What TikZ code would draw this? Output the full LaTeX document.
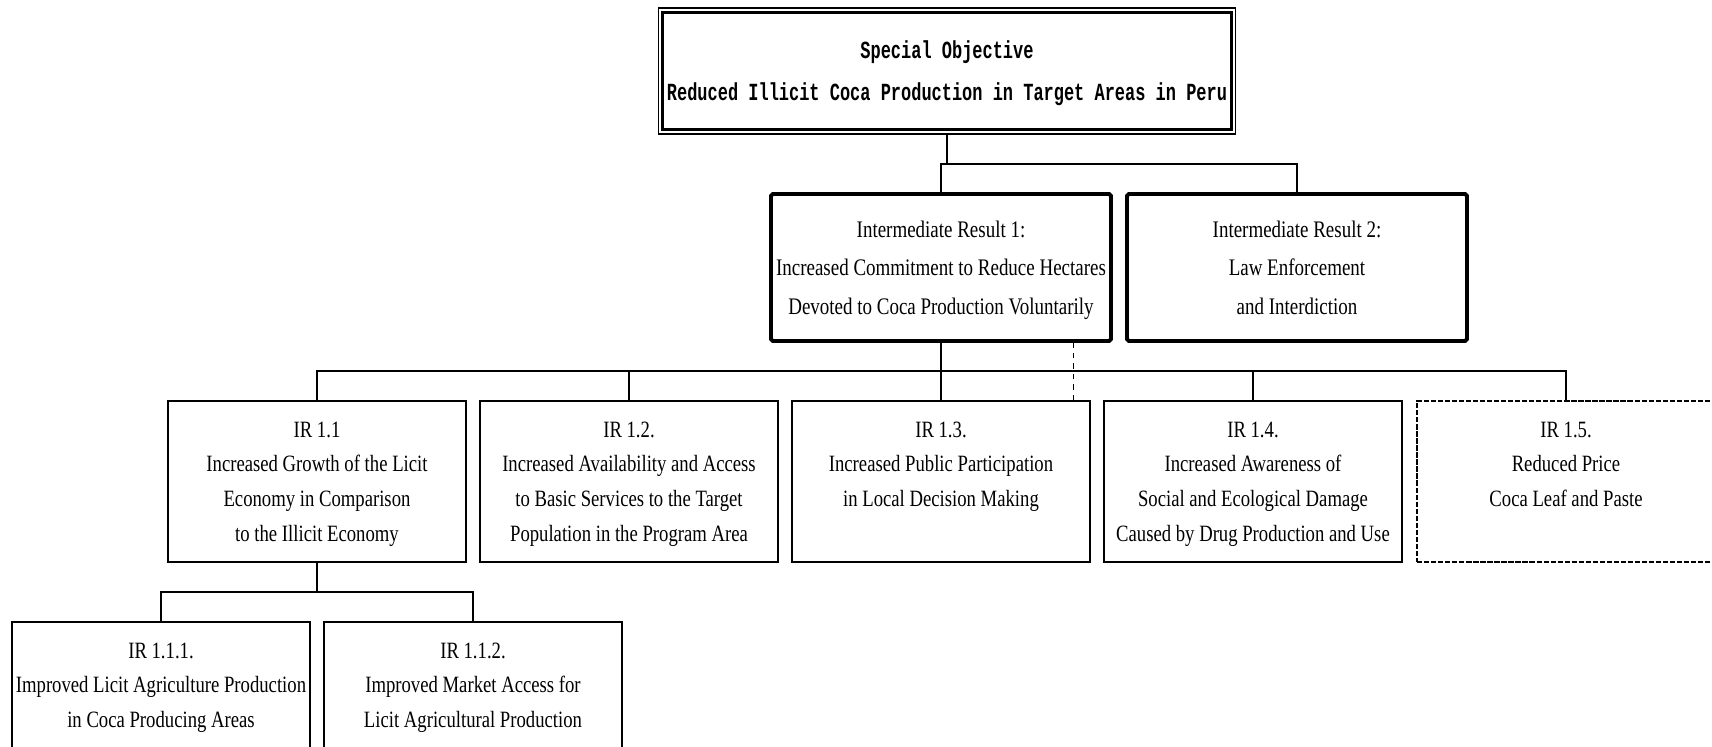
\documentclass[tikz,border=0pt]{standalone}
\usepackage{fontspec}
\usetikzlibrary{calc}
\newfontfamily\irfont[FakeStretch=0.8]{Liberation Serif}
\newfontfamily\sofont[FakeStretch=0.69]{Liberation Mono}

\begin{document}
\begin{tikzpicture}[x=0.02cm, y=-0.02cm]
  \tikzstyle{objbox}=[draw, line width=0.6pt, minimum width=11.56cm, minimum height=2.52cm, inner sep=0pt, align=center, text depth=0.4pt, font=\sofont\bfseries\fontsize{14}{24.4}\selectfont]
  \tikzstyle{resbox}=[draw, line width=2.2pt, rounded corners=1pt, minimum width=6.8cm, minimum height=2.94cm, inner sep=0pt, align=center, text depth=0pt, font=\irfont\fontsize{13.5}{21.8}\selectfont]
  \tikzstyle{subbox}=[draw, line width=0.9pt, minimum width=5.96cm, minimum height=3.22cm, inner sep=0pt, align=center, text depth=-0.3pt, font=\irfont\fontsize{13.3}{19.8}\selectfont, execute at end node=\strut]
  \tikzstyle{open}=[dash pattern=on 3pt off 1pt]
  \tikzstyle{edge}=[line width=0.7pt]

  \useasboundingbox (0,0) rectangle (1712,747);

  \node[objbox]  (so)   at (947, 71)    {Special Objective\\Reduced Illicit Coca Production in Target Areas in Peru};
  \draw[line width=1.8pt] ($(so.south west)+(5,-5)$) rectangle ($(so.north east)+(-5,5)$);

  \node[resbox]  (ir1)  at (941, 267.5) {Intermediate Result 1:\\Increased Commitment to Reduce Hectares\\Devoted to Coca Production Voluntarily};
  \node[resbox]  (ir2)  at (1297, 267.5) {Intermediate Result 2:\\Law Enforcement\\and Interdiction};

  \node[subbox]  (ir11) at (317, 481.5)  {IR 1.1\\Increased Growth of the Licit\\Economy in Comparison\\to the Illicit Economy};
  \node[subbox]  (ir12) at (629, 481.5)  {IR 1.2.\\Increased Availability and Access\\to Basic Services to the Target\\Population in the Program Area};
  \node[subbox]  (ir13) at (941, 481.5)  {IR 1.3.\\Increased Public Participation\\in Local Decision Making\\};
  \node[subbox]  (ir14) at (1253, 481.5) {IR 1.4.\\Increased Awareness of\\Social and Ecological Damage\\Caused by Drug Production and Use};
  \node[subbox, open] (ir15) at (1566, 481.5) {IR 1.5.\\Reduced Price\\Coca Leaf and Paste\\};

  \node[subbox]  (ir111) at (161, 702.5) {IR 1.1.1.\\Improved Licit Agriculture Production\\in Coca Producing Areas\\};
  \node[subbox]  (ir112) at (473, 702.5) {IR 1.1.2.\\Improved Market Access for\\Licit Agricultural Production\\};

  \coordinate (j0) at (0, 164);
  \coordinate (j1) at (0, 371);
  \coordinate (j2) at (0, 592);

  % objective to results
  \draw[edge] (so.south) |- (ir1.north |- j0) -- (ir1.north);
  \draw[edge] (ir1.north |- j0) -| (ir2.north);

  % result 1 to its sub results
  \draw[edge] (ir1.south) -- (ir1.south |- j1);
  \draw[edge] (ir11.north) |- (ir15.north |- j1) -- (ir15.north);
  \foreach \n in {ir12, ir13, ir14}
    \draw[edge] (\n.north) -- (\n.north |- j1);
  \draw[edge, dashed] ([xshift=-0.34cm]ir13.north east) -- ([xshift=-0.34cm]ir13.north east |- ir1.south);

  % IR 1.1 to its sub results
  \draw[edge] (ir11.south) -- (ir11.south |- j2);
  \draw[edge] (ir111.north) |- (ir112.north |- j2) -- (ir112.north);
\end{tikzpicture}
\end{document}
